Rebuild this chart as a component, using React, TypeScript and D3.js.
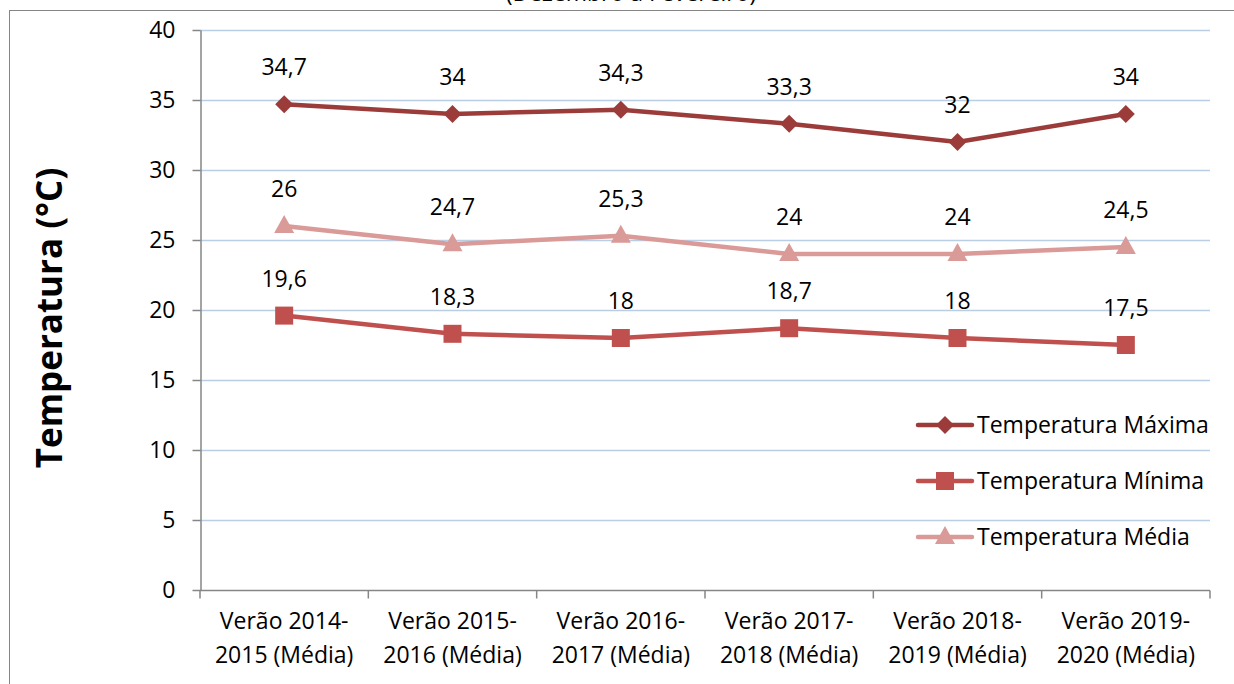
import React, { useRef, useEffect } from 'react';
import * as d3 from 'd3';

// categorias (verões) e séries de temperatura
const categories = [
  ['Verão 2014-', '2015 (Média)'],
  ['Verão 2015-', '2016 (Média)'],
  ['Verão 2016-', '2017 (Média)'],
  ['Verão 2017-', '2018 (Média)'],
  ['Verão 2018-', '2019 (Média)'],
  ['Verão 2019-', '2020 (Média)'],
];
const tempMax = [34.7, 34, 34.3, 33.3, 32, 34];
const tempMin = [19.6, 18.3, 18, 18.7, 18, 17.5];
const tempMed = [26, 24.7, 25.3, 24, 24, 24.5];
const yTicks = [0, 5, 10, 15, 20, 25, 30, 35, 40];

const series = [
  { name: 'Temperatura Máxima', values: tempMax, color: '#9B3C3A', marker: 'diamond' },
  { name: 'Temperatura Mínima', values: tempMin, color: '#C0504D', marker: 'square' },
  { name: 'Temperatura Média', values: tempMed, color: '#D99A98', marker: 'triangle' },
];

const FONT = '"Open Sans", sans-serif';
const FS = '23px';

const App = () => {
  const svgRef = useRef<SVGSVGElement>(null);

  useEffect(() => {
    const width = 1234;
    const height = 684;
    const margin = { top: 30, right: 24, bottom: 94, left: 200 };

    const svg = d3.select(svgRef.current);
    svg.selectAll('*').remove();
    svg.attr('width', width).attr('height', height).style('font-family', FONT);

    svg.append('rect').attr('width', width).attr('height', height).attr('fill', '#fff');

    // moldura do gráfico
    svg.append('rect')
      .attr('x', 9.5).attr('y', 10.5)
      .attr('width', width + 20).attr('height', height + 20)
      .attr('fill', 'none').attr('stroke', '#868686').attr('stroke-width', 1);

    // título cortado no topo (como no original)
    svg.append('text')
      .attr('x', 631).attr('y', 1)
      .attr('text-anchor', 'middle')
      .style('font-size', FS)
      .text('(Dezembro a Fevereiro)');

    const x = d3.scaleBand()
      .domain(categories.map((_, i) => String(i)))
      .range([margin.left, width - margin.right]);

    const y = d3.scaleLinear()
      .domain([0, 40])
      .range([height - margin.bottom, margin.top]);

    // grade
    svg.append('g')
      .selectAll('line')
      .data(yTicks.filter(d => d > 0))
      .join('line')
      .attr('x1', margin.left).attr('x2', width - margin.right)
      .attr('y1', d => Math.round(y(d)) + 0.5).attr('y2', d => Math.round(y(d)) + 0.5)
      .attr('stroke', '#B9CDE5').attr('stroke-width', 1.5);

    // eixo Y
    const yAxis = svg.append('g')
      .attr('transform', `translate(${margin.left + 0.5},0)`)
      .call(d3.axisLeft(y).tickValues(yTicks).tickSize(8).tickPadding(17).tickSizeOuter(0));
    yAxis.select('.domain').attr('stroke', '#868686').attr('stroke-width', 1.5);
    yAxis.selectAll('.tick line').attr('stroke', '#868686').attr('stroke-width', 1.5);
    yAxis.selectAll('.tick text')
      .style('font-family', FONT).style('font-size', FS).attr('fill', '#000');

    // eixo X
    const xAxisY = Math.round(y(0)) + 0.5;
    const gx = svg.append('g');
    gx.append('line')
      .attr('x1', margin.left).attr('x2', width - margin.right)
      .attr('y1', xAxisY).attr('y2', xAxisY)
      .attr('stroke', '#868686').attr('stroke-width', 1.5);
    const edges = categories.map((_, i) => x(String(i)) as number).concat([width - margin.right]);
    gx.selectAll('line.tick')
      .data(edges)
      .join('line')
      .attr('class', 'tick')
      .attr('x1', d => d).attr('x2', d => d)
      .attr('y1', xAxisY).attr('y2', xAxisY + 8)
      .attr('stroke', '#868686').attr('stroke-width', 1.5);
    const xl = gx.selectAll('text')
      .data(categories)
      .join('text')
      .attr('x', (_, i) => (x(String(i)) as number) + x.bandwidth() / 2)
      .attr('y', 629)
      .attr('text-anchor', 'middle')
      .style('font-size', FS);
    xl.selectAll('tspan')
      .data(d => d)
      .join('tspan')
      .attr('x', function () { return (this.parentNode as SVGTextElement).getAttribute('x'); })
      .attr('dy', (_, i) => (i === 0 ? 0 : 34))
      .text(d => d);

    // título do eixo Y
    svg.append('text')
      .attr('transform', `translate(62,${(margin.top + height - margin.bottom) / 2 + 8}) rotate(-90)`)
      .attr('text-anchor', 'middle')
      .style('font-size', '35px')
      .style('font-weight', 'bold')
      .text('Temperatura (°C)');

    const cx = (i: number) => (x(String(i)) as number) + x.bandwidth() / 2;

    const drawMarker = (g: any, type: string, color: string, px: number, py: number) => {
      if (type === 'diamond') {
        g.append('path')
          .attr('d', `M${px},${py - 9}L${px + 9},${py}L${px},${py + 9}L${px - 9},${py}Z`)
          .attr('fill', color);
      } else if (type === 'square') {
        g.append('rect')
          .attr('x', px - 9).attr('y', py - 9).attr('width', 18).attr('height', 18)
          .attr('fill', color);
      } else {
        g.append('path')
          .attr('d', `M${px},${py - 11}L${px + 10},${py + 7}L${px - 10},${py + 7}Z`)
          .attr('fill', color);
      }
    };

    const line = d3.line<number>()
      .x((_, i) => cx(i))
      .y(d => y(d));

    const fmt = (v: number) => String(v).replace('.', ',');

    series.forEach(s => {
      const g = svg.append('g');
      g.append('path')
        .datum(s.values)
        .attr('d', line)
        .attr('fill', 'none')
        .attr('stroke', s.color)
        .attr('stroke-width', 4.5)
        .attr('stroke-linejoin', 'round');
      s.values.forEach((v, i) => drawMarker(g, s.marker, s.color, cx(i), y(v)));
      g.selectAll('text')
        .data(s.values)
        .join('text')
        .attr('x', (_, i) => cx(i))
        .attr('y', d => y(d) - 37)
        .attr('dy', '0.35em')
        .attr('text-anchor', 'middle')
        .style('font-size', FS)
        .text(d => fmt(d));
    });

    // legenda
    const legend = svg.append('g');
    series.forEach((s, i) => {
      const ly = 425 + i * 56;
      const lg = legend.append('g');
      lg.append('line')
        .attr('x1', 918).attr('x2', 972)
        .attr('y1', ly).attr('y2', ly)
        .attr('stroke', s.color).attr('stroke-width', 4.5).attr('stroke-linecap', 'round');
      drawMarker(lg, s.marker, s.color, 945, ly);
      lg.append('text')
        .attr('x', 977).attr('y', ly)
        .attr('dy', '0.35em')
        .style('font-size', FS)
        .text(s.name);
    });
  }, []);

  return <svg ref={svgRef} style={{ display: 'block', position: 'absolute', left: 0, top: 0 }} />;
};

export default App;
